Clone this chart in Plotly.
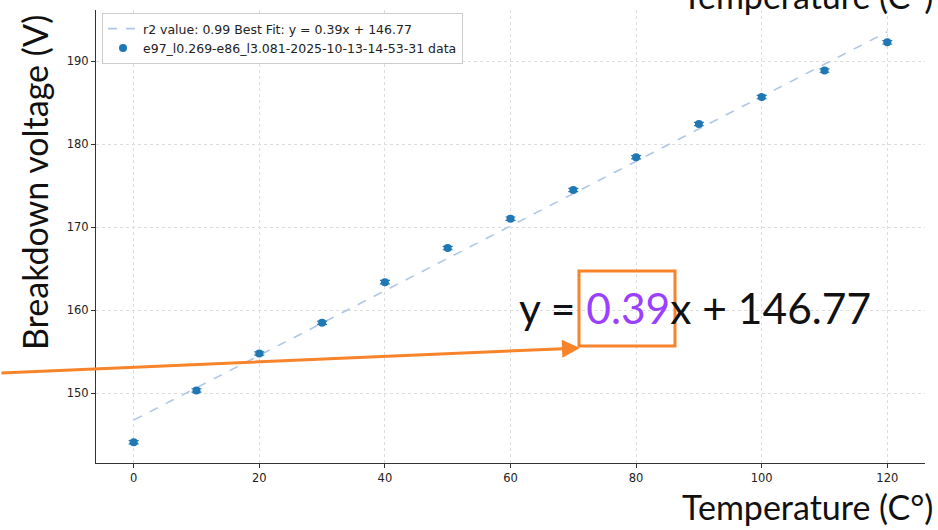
import plotly.graph_objects as go

temps = [0, 10, 20, 30, 40, 50, 60, 70, 80, 90, 100, 110, 120]
voltages = [144.1, 150.35, 154.8, 158.5, 163.4, 167.5, 171.05, 174.5, 178.45, 182.45, 185.7, 188.9, 192.3]
errors = [0.2] * len(temps)
slope = 0.39
intercept = 146.77
r2 = 0.99
data_label = "e97_l0.269-e86_l3.081-2025-10-13-14-53-31 data"
x_ticks = [0, 20, 40, 60, 80, 100, 120]
y_ticks = [150, 160, 170, 180, 190]

W, H = 938, 530
L, R, T, B = 96, 13, 10, 67
pw, ph = W - L - R, H - T - B


def px(x):
    return (x - L) / pw


def py(y):
    return (H - B - y) / ph


fit_x = [temps[0], temps[-1]]
fit_y = [slope * v + intercept for v in fit_x]

fig = go.Figure()
fig.add_trace(go.Scatter(
    x=fit_x, y=fit_y, mode="lines",
    line=dict(color="#aec7e8", width=1.6, dash="dash"),
    name=f"r2 value: {r2:.2f} Best Fit: y = {slope:.2f}x + {intercept:.2f}",
))
fig.add_trace(go.Scatter(
    x=temps, y=voltages, mode="markers",
    marker=dict(color="#1f77b4", size=8),
    error_y=dict(type="data", array=errors, color="#1f77b4", thickness=1.2, width=5),
    name=data_label,
))

big_font = "Lato, 'Open Sans', sans-serif"
orange = "#f7832a"
tick_font = dict(family="DejaVu Sans", size=11.5, color="#222")

fig.update_layout(
    width=W, height=H,
    margin=dict(l=L, r=R, t=T, b=B),
    paper_bgcolor="white", plot_bgcolor="white",
    showlegend=True,
    legend=dict(
        x=px(102), y=py(13), xanchor="left", yanchor="top",
        bgcolor="rgba(255,255,255,0.9)", bordercolor="#cccccc", borderwidth=1,
        font=dict(family="DejaVu Sans", size=12.5, color="#222"),
        tracegroupgap=0, itemwidth=30,
    ),
    xaxis=dict(
        range=[-6, 126], tickvals=x_ticks,
        showgrid=True, gridcolor="#dddddd", griddash="dot", gridwidth=0.8,
        showline=True, linecolor="#333", linewidth=1.2,
        ticks="outside", ticklen=4, tickcolor="#333",
        tickfont=tick_font, zeroline=False,
    ),
    yaxis=dict(
        range=[141.6, 196.2], tickvals=y_ticks,
        showgrid=True, gridcolor="#dddddd", griddash="dot", gridwidth=0.8,
        showline=True, linecolor="#333", linewidth=1.2,
        ticks="outside", ticklen=4, tickcolor="#333",
        tickfont=tick_font, zeroline=False,
    ),
)

# Y axis title (large slide text)
fig.add_annotation(
    xref="paper", yref="paper", x=px(35), y=py(183),
    text="Breakdown voltage (V)", showarrow=False, textangle=-90,
    font=dict(family=big_font, size=34, color="#111"),
    xanchor="center", yanchor="middle",
)
# X axis title bottom right
fig.add_annotation(
    xref="paper", yref="paper", x=px(935), y=py(506),
    text="Temperature (C°)", showarrow=False,
    font=dict(family=big_font, size=34, color="#111"),
    xanchor="right", yanchor="middle",
)
# Copy at top, partly off the slide edge as in the reference
fig.add_annotation(
    xref="paper", yref="paper", x=px(935), y=py(-5),
    text="Temperature (C°)", showarrow=False,
    font=dict(family=big_font, size=34, color="#111"),
    xanchor="right", yanchor="middle",
)
# Equation
fig.add_annotation(
    xref="paper", yref="paper", x=px(695), y=py(307),
    text=f"y = <span style='color:#9b40ff'>{slope:.2f}</span>x + {intercept:.2f}",
    showarrow=False,
    font=dict(family=big_font, size=42.5, color="#111"),
    xanchor="center", yanchor="middle",
)
# Orange box
fig.add_shape(
    type="rect", xref="paper", yref="paper",
    x0=px(579), x1=px(675), y0=py(346), y1=py(271),
    line=dict(color=orange, width=3),
)
# Orange arrow
fig.add_annotation(
    xref="paper", yref="paper", x=px(580), y=py(348),
    axref="pixel", ayref="pixel", ax=-580, ay=25,
    text="", showarrow=True, arrowhead=2, arrowsize=1.2, arrowwidth=3,
    arrowcolor=orange,
)

fig.write_html(
    "out.html",
    config={"displayModeBar": False},
    post_script="document.body.style.margin='0px';",
)
